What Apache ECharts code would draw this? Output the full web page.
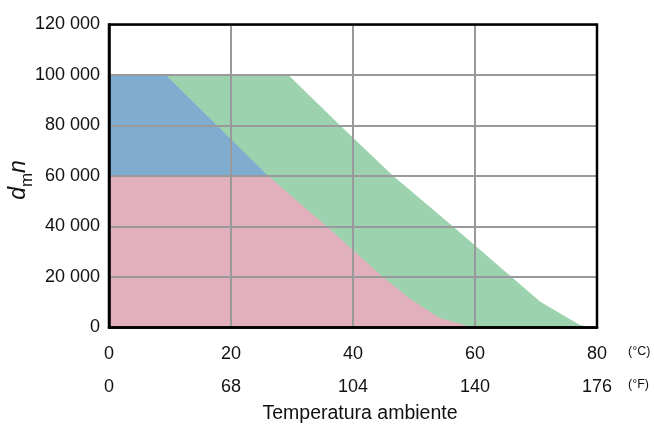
<!DOCTYPE html>
<html>
<head>
<meta charset="utf-8">
<script src="https://cdn.jsdelivr.net/npm/echarts@6/dist/echarts.min.js"></script>
<style>html,body{margin:0;padding:0;background:#fff}#c{width:654px;height:424px}</style>
</head>
<body>
<div id="c"></div>
<script>
// Temperature ticks (°C) and matching °F labels
const cTicks = [0, 20, 40, 60, 80];
const fLabels = ['0', '68', '104', '140', '176'];
// Boundaries of the three regions: [temperature °C, dmn]
const greenX = [0, 29.4, 37.9, 46.6, 56.4, 66.0, 70.7, 77.2, 79.7];
const greenY = [100000, 100000, 80000, 60000, 40000, 20000, 10200, 1000, 0];
const blueX = [0, 9.3, 17.7, 26.1];
const blueY = [100000, 100000, 80000, 60000];
const pinkX = [0, 26.1, 35.7, 44.9, 49.6, 54.3, 59.7];
const pinkY = [60000, 60000, 40000, 20000, 10900, 3640, 0];

const pairs = (xs, ys) => xs.map((x, i) => [x, ys[i]]);
const FONT = 'Liberation Sans';
const fmtY = v => v === 0 ? '0' : (Math.round(v / 1000) + ' 000');

const chart = echarts.init(document.getElementById('c'), null, {renderer: 'canvas'});
const areaSeries = (name, xs, ys, color) => ({
  name, type: 'line', data: pairs(xs, ys), symbol: 'none', smooth: false,
  lineStyle: {width: 0, color}, areaStyle: {color, opacity: 1}, itemStyle: {color},
  xAxisIndex: 0, yAxisIndex: 0, animation: false, silent: true
});

chart.setOption({
  animation: false,
  textStyle: {fontFamily: FONT},
  grid: {left: 109, right: 57, top: 24.5, bottom: 96.5, outerBoundsMode: 'none', containLabel: false,
    show: true, borderColor: '#000', borderWidth: 2.5, backgroundColor: 'transparent', z: 10},
  xAxis: [{
    type: 'value', min: 0, max: 80, interval: 20, position: 'bottom',
    axisLine: {show: true, lineStyle: {color: '#000', width: 2.5}},
    axisTick: {show: false},
    axisLabel: {color: '#111', fontSize: 18, margin: 18, fontFamily: FONT},
    splitLine: {show: true, lineStyle: {color: '#9a9a9c', width: 2}},
    z: 5
  }, {
    type: 'value', min: 0, max: 80, interval: 20, position: 'bottom',
    axisLine: {show: false}, axisTick: {show: false}, splitLine: {show: false},
    axisLabel: {color: '#111', fontSize: 18, margin: 51, fontFamily: FONT,
      formatter: v => fLabels[cTicks.indexOf(v)]},
    name: 'Temperatura ambiente', nameLocation: 'middle', nameGap: 76, nameMoveOverlap: false,
    nameTextStyle: {color: '#111', fontSize: 19.5, fontFamily: FONT, padding: [0, 0, 0, 14]}
  }],
  yAxis: {
    type: 'value', min: 0, max: 120000, interval: 20000,
    axisLine: {show: true, lineStyle: {color: '#000', width: 2.5}},
    axisTick: {show: false},
    axisLabel: {color: '#111', fontSize: 18, margin: 9, formatter: fmtY, fontFamily: FONT},
    splitLine: {show: true, lineStyle: {color: '#9a9a9c', width: 2}},
    name: '{i|d}{s|m}{i|n}', nameLocation: 'middle', nameRotate: 90, nameGap: 71, nameMoveOverlap: false,
    nameTextStyle: {padding: [0, 8, 0, 0], rich: {
      i: {fontSize: 23, fontStyle: 'italic', fontFamily: FONT, color: '#111', padding: [0, 0, 8, 0]},
      s: {fontSize: 17, fontFamily: FONT, color: '#111', padding: [10, 0, 0, 0]}
    }},
    z: 5
  },
  graphic: [
    {type: 'text', left: 628, top: 345, style: {text: '(°C)', fontSize: 12.5, fontFamily: FONT, fill: '#111'}},
    {type: 'text', left: 628, top: 378, style: {text: '(°F)', fontSize: 12.5, fontFamily: FONT, fill: '#111'}}
  ],
  series: [
    areaSeries('green', greenX, greenY, '#9cd3ae'),
    areaSeries('blue', blueX, blueY, '#80acd0'),
    areaSeries('pink', pinkX, pinkY, '#e2afbc')
  ]
});
</script>
</body>
</html>
